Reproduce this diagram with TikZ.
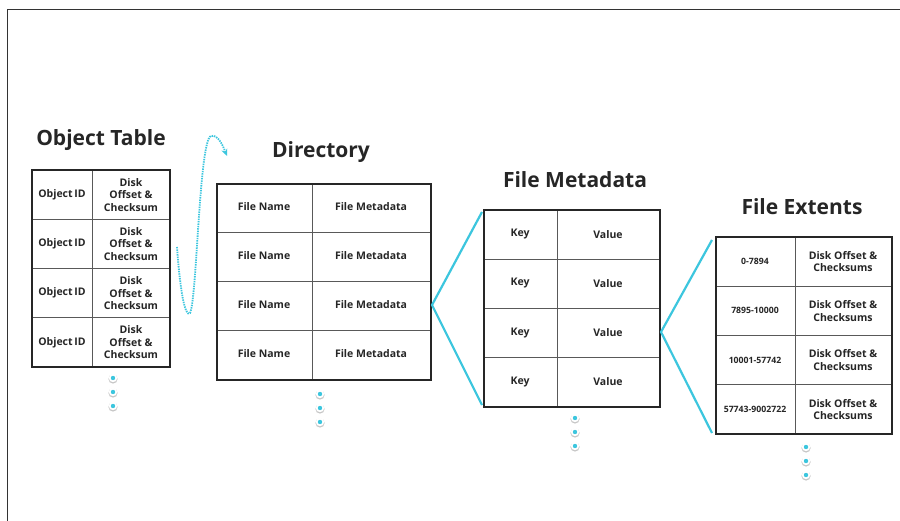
\documentclass[tikz,border=0pt]{standalone}
\usepackage{fontspec}
\setmainfont{Open Sans}
\usetikzlibrary{arrows.meta}
\definecolor{cyanline}{HTML}{3CC6DE}
\definecolor{inkc}{HTML}{262626}
\begin{document}
\begin{tikzpicture}[x=1pt,y=-1pt,
  title/.style={font=\fontsize{21}{24}\selectfont\bfseries, text=inkc, inner sep=0pt},
  cell/.style={font=\fontsize{10.5}{12.5}\selectfont\bfseries, text=inkc, align=center, inner sep=0pt},
  smallcell/.style={font=\fontsize{8.7}{10}\selectfont\bfseries, text=inkc, align=center, inner sep=0pt},
  outer/.style={draw=black!85, line width=2pt},
  inner/.style={draw=black!65, line width=1pt},
  link/.style={draw=cyanline, line width=2.2pt},
  hop/.style={draw=cyanline, line width=1.8pt, dash pattern=on 1.4pt off 1pt, -{Stealth[length=7pt,width=6pt]}},
  frame/.style={draw=black!80, line width=1pt}]
\useasboundingbox (0,0) rectangle (900,521);
\fill[white] (0,0) rectangle (900,521);
\draw[frame] (7,521) -- (7,10) -- (900,10);

\newcommand{\moredots}[2]{%
  \foreach \dy in {0,14,28}{%
    \fill[black!22] (#1,#2+\dy+1) circle (4.6);
    \fill[white] (#1,#2+\dy) circle (4.2);
    \fill[cyanline] (#1,#2+\dy) circle (2.2);
  }}

% ---------- Object Table ----------
\node[title] (ottitle) at (101,140) {Object Table};
\foreach \i in {1,...,4}{
  \pgfmathsetmacro{\yc}{170+49.25*(\i-0.5)}
  \node[cell] (ot-\i-a) at (62,\yc) {Object\,ID};
  \node[cell] (ot-\i-b) at (131,\yc) {Disk\\Offset \&\\Checksum};
}
\foreach \yy in {219.25,268.5,317.75} \draw[inner] (32,\yy) -- (170,\yy);
\draw[inner] (92,170) -- (92,367);
\draw[outer] (32,170) rectangle (170,367);
\moredots{113}{378}

% ---------- Directory ----------
\node[title] (dirtitle) at (321,152) {Directory};
\foreach \i in {1,...,4}{
  \pgfmathsetmacro{\yc}{184+49*(\i-0.5)-1.5}
  \node[cell] (dir-\i-a) at (264,\yc) {File Name};
  \node[cell] (dir-\i-b) at (371,\yc) {File Metadata};
}
\foreach \yy in {233,282,331} \draw[inner] (217,\yy) -- (431,\yy);
\draw[inner] (312,184) -- (312,380);
\draw[outer] (217,184) rectangle (431,380);
\moredots{320}{394}

% ---------- File Metadata ----------
\node[title] (fmtitle) at (575,180) {File Metadata};
\foreach \i in {1,...,4}{
  \pgfmathsetmacro{\yc}{210+49.25*(\i-0.5)-0.5}
  \node[cell] (fm-\i-a) at (520,\yc) {Key};
  \node[cell] (fm-\i-b) at (608,\yc) {Value};
}
\foreach \yy in {259.25,308.5,357.75} \draw[inner] (484,\yy) -- (660,\yy);
\draw[inner] (557,210) -- (557,407);
\draw[outer] (484,210) rectangle (660,407);
\moredots{575}{418}

% ---------- File Extents ----------
\node[title] (fetitle) at (802,207) {File Extents};
\foreach \i/\r in {1/0-7894,2/7895-10000,3/10001-57742,4/57743-9002722}{
  \pgfmathsetmacro{\yc}{237+49.25*(\i-0.5)}
  \node[smallcell] (fe-\i-a) at (755,\yc) {\r};
  \node[cell] (fe-\i-b) at (843,\yc) {Disk Offset \&\\Checksums};
}
\foreach \yy in {286.25,335.5,384.75} \draw[inner] (716,\yy) -- (892,\yy);
\draw[inner] (795,237) -- (795,434);
\draw[outer] (716,237) rectangle (892,434);
\moredots{806}{447}

% ---------- connectors ----------
\coordinate (dirpt) at (432,305);
\coordinate (fmtop) at (482,212);
\coordinate (fmbot) at (482,405);
\draw[link] (fmtop) -- (dirpt) -- (fmbot);

\coordinate (fmpt) at (661,332);
\coordinate (fetop) at (712,240);
\coordinate (febot) at (712,433);
\draw[link] (fetop) -- (fmpt) -- (febot);

\coordinate (hopstart) at (177,247);
\coordinate (hopend) at (227,156);
\draw[hop] (hopstart) .. controls (180,290) and (185,318) .. (190,313)
  .. controls (197,300) and (199,140) .. (211,136)
  .. controls (218,134) and (223,146) .. (hopend);
\end{tikzpicture}
\end{document}
